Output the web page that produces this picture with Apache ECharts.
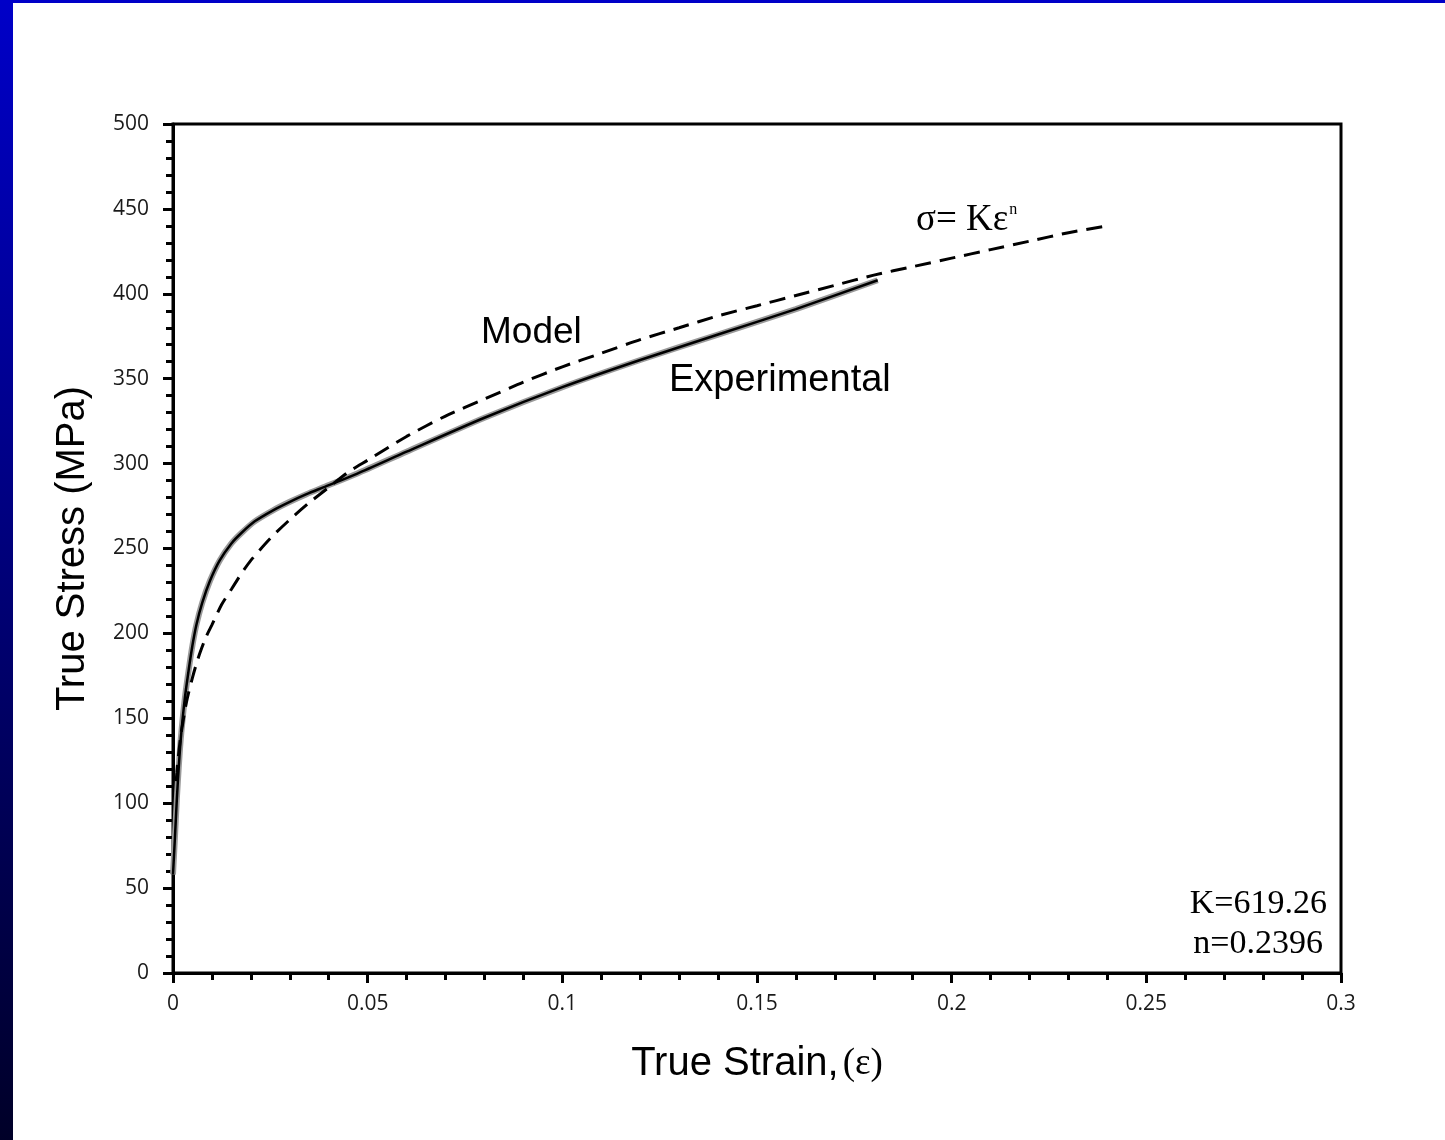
<!DOCTYPE html>
<html>
<head>
<meta charset="utf-8">
<script src="https://cdn.jsdelivr.net/npm/echarts@6/dist/echarts.min.js"></script>
<style>
html,body{margin:0;padding:0;background:#fff;}
#chart{width:1445px;height:1140px;}
</style>
</head>
<body>
<div id="chart"></div>
<script>
// Model curve  sigma = K * eps^n
const modelStrain = [0.0008,0.001,0.0012,0.0015,0.002,0.0025,0.003,0.0035,0.004,0.005,0.006,0.007,0.0085,0.01,0.0125,0.015,0.0175,0.02,0.025,0.03,0.035,0.04,0.045,0.05,0.06,0.07,0.08,0.09,0.10,0.11,0.12,0.13,0.14,0.15,0.16,0.17,0.18,0.19,0.20,0.21,0.22,0.23,0.24];
const modelStress = [113,118,124,130,140,147,154,160,165,174,182,189,198,205,217,226,235,243,256,267,277,286,295,302,316,328,338,348,357,365,373,380,387,393,399,405,411,416,421,426,431,436,440];

// Experimental curve
const expStrain = [0,0.0005,0.001,0.0015,0.002,0.003,0.004,0.005,0.006,0.0075,0.0095,0.012,0.015,0.0175,0.021,0.0257,0.03,0.0343,0.0386,0.0472,0.06,0.08,0.10,0.12,0.14,0.16,0.181];
const expStress = [58,80,103,122,138,161,178,193,205,218,231,243,253,259,266,272.5,277.5,282,286,294,307,327,345,361,376,391,408];

const xTicks = {min:0, max:0.3, interval:0.05};
const yTicks = {min:0, max:500, interval:50};

const zip = (a,b)=>a.map((v,i)=>[v,b[i]]);

const chart = echarts.init(document.getElementById('chart'), null, {renderer:'canvas'});
const axisCommon = {
  axisLine:{show:true, onZero:false, lineStyle:{color:'#000', width:3}},
  axisTick:{show:true, inside:false, length:10, lineStyle:{color:'#000', width:3}},
  minorTick:{show:true, splitNumber:5, length:7, lineStyle:{color:'#000', width:3}},
  splitLine:{show:false},
  axisLabel:{color:'#1a1a1a', fontFamily:'Open Sans', fontSize:21}
};
chart.setOption({
  animation:false,
  backgroundColor:'#ffffff',
  grid:{left:173, top:124, width:1168, height:849, show:true, borderColor:'#000', borderWidth:3, backgroundColor:'transparent'},
  xAxis:Object.assign({}, axisCommon, {
    type:'value', min:xTicks.min, max:xTicks.max, interval:xTicks.interval,
    axisLabel:Object.assign({}, axisCommon.axisLabel, {margin:21}),
    name:'{a|True Strain,}{b|(ε)}', nameLocation:'middle', nameGap:71,
    nameTextStyle:{rich:{
      a:{fontFamily:'Liberation Sans', fontSize:40, color:'#000'},
      b:{fontFamily:'Liberation Serif', fontSize:37, color:'#000', padding:[0,0,0,4]}
    }}
  }),
  yAxis:Object.assign({}, axisCommon, {
    type:'value', min:yTicks.min, max:yTicks.max, interval:yTicks.interval,
    axisLabel:Object.assign({}, axisCommon.axisLabel, {margin:24}),
    name:'True Stress (MPa)', nameLocation:'middle', nameGap:80,
    nameTextStyle:{fontFamily:'Liberation Sans', fontSize:40, color:'#000'}
  }),
  graphic:[
    {type:'rect', shape:{x:0,y:0,width:13,height:1140}, z:100,
     style:{fill:new echarts.graphic.LinearGradient(0,0,0,1,[{offset:0,color:'#0000C8'},{offset:1,color:'#000028'}])}},
    {type:'rect', shape:{x:0,y:0,width:1445,height:3}, z:100, style:{fill:'#0000C8'}},
    {type:'text', left:481, top:314, style:{text:'Model', font:'37px "Liberation Sans"', fill:'#000'}},
    {type:'text', left:669, top:362, style:{text:'Experimental', font:'38px "Liberation Sans"', fill:'#000'}},
    {type:'text', left:916, top:202, style:{text:'{a|σ= Kε}{s|n}', fill:'#000', rich:{
      a:{fontFamily:'Liberation Serif', fontSize:37, color:'#000'},
      s:{fontFamily:'Liberation Serif', fontSize:16, color:'#000', verticalAlign:'top', padding:[0,0,20,1]}
    }}},
    {type:'text', right:1445-1327, top:887, style:{text:'K=619.26', font:'34px "Liberation Serif"', fill:'#000', textAlign:'right'}},
    {type:'text', right:1445-1323, top:927, style:{text:'n=0.2396', font:'34px "Liberation Serif"', fill:'#000', textAlign:'right'}}
  ],
  series:[
    {name:'Model', type:'line', data:zip(modelStrain, modelStress), showSymbol:false, smooth:0.25,
     lineStyle:{color:'#000', width:3, type:[16,9]}, z:3},
    {name:'Experimental (grey)', type:'line', data:zip(expStrain, expStress), showSymbol:false, smooth:0.25,
     lineStyle:{color:'#9a9a9a', width:6}, z:2},
    {name:'Experimental', type:'line', data:zip(expStrain, expStress), showSymbol:false, smooth:0.25,
     lineStyle:{color:'#000', width:2.5}, z:4}
  ]
});
</script>
</body>
</html>
